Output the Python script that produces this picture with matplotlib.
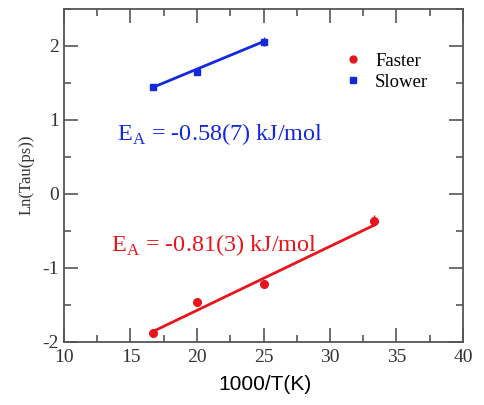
import matplotlib
matplotlib.use("Agg")
import matplotlib.pyplot as plt
from matplotlib.ticker import MultipleLocator
import numpy as np

plt.rcParams["axes.unicode_minus"] = False

x_fast = [16.67, 20.0, 25.0, 33.33]
y_fast = [-1.88, -1.455, -1.21, -0.36]
err_fast = [0.0, 0.0, 0.0, 0.07]
x_slow = [16.67, 20.0, 25.0]
y_slow = [1.44, 1.65, 2.06]
err_slow = [0.0, 0.0, 0.06]

fit_fast = [-1.86, -0.42]
fit_slow = [1.44, 2.06]

red = "#e8141c"
blue = "#1428e0"
serif = "Liberation Serif"

fig = plt.figure(figsize=(4.85, 4.05), dpi=100)
ax = fig.add_axes([64/485, 1-342/405, (463-64)/485, (342-9)/405])

ax.plot([x_fast[0], x_fast[-1]], fit_fast, color=red, lw=2)
ax.plot([x_slow[0], x_slow[-1]], fit_slow, color=blue, lw=2)
ax.errorbar(x_fast, y_fast, yerr=err_fast, fmt="none", ecolor=red, elinewidth=1, capsize=0)
ax.errorbar(x_slow, y_slow, yerr=err_slow, fmt="none", ecolor=blue, elinewidth=1, capsize=0)
ax.plot(x_fast, y_fast, "o", color=red, ms=5.5, label="Faster", linestyle="none")
ax.plot(x_slow, y_slow, "s", color=blue, ms=5, label="Slower", linestyle="none")

ax.set_xlim(10, 40)
ax.set_ylim(-2, 2.5)
ax.xaxis.set_major_locator(MultipleLocator(5))
ax.xaxis.set_minor_locator(MultipleLocator(2.5))
ax.yaxis.set_major_locator(MultipleLocator(1))
ax.yaxis.set_minor_locator(MultipleLocator(0.5))
ax.tick_params(which="both", direction="in", top=True, right=True, colors="#555555", labelcolor="#333333")
ax.tick_params(which="major", length=10, width=1.2)
ax.tick_params(which="minor", length=5, width=1.2)
ax.tick_params(axis="x", pad=5)
for lab in ax.get_xticklabels() + ax.get_yticklabels():
    lab.set_fontfamily(serif)
    lab.set_fontsize(14)
for s in ax.spines.values():
    s.set_color("#555555")
    s.set_linewidth(1.3)

ax.text(14.0, 0.73, r"E$_\mathregular{A}$ = -0.58(7) kJ/mol", color=blue, fontsize=17.5, family=serif)
ax.text(13.5, -0.77, r"E$_\mathregular{A}$ = -0.81(3) kJ/mol", color=red, fontsize=17.5, family=serif)

leg = ax.legend(loc="upper right", bbox_to_anchor=(0.955, 0.92), frameon=False,
                prop={"family": serif, "size": 13.5}, handletextpad=0.6, labelspacing=0.2,
                handlelength=1.2, markerscale=0.9)

fig.text(265/485, 1-385/405, "1000/T(K)", ha="center", va="center", fontsize=15, family="Liberation Sans")
fig.text(27/485, 1-175/405, "Ln(Tau(ps))", ha="center", va="center", rotation=90, fontsize=12, family=serif, color="#333333")

fig.savefig("out.png", dpi=100)
